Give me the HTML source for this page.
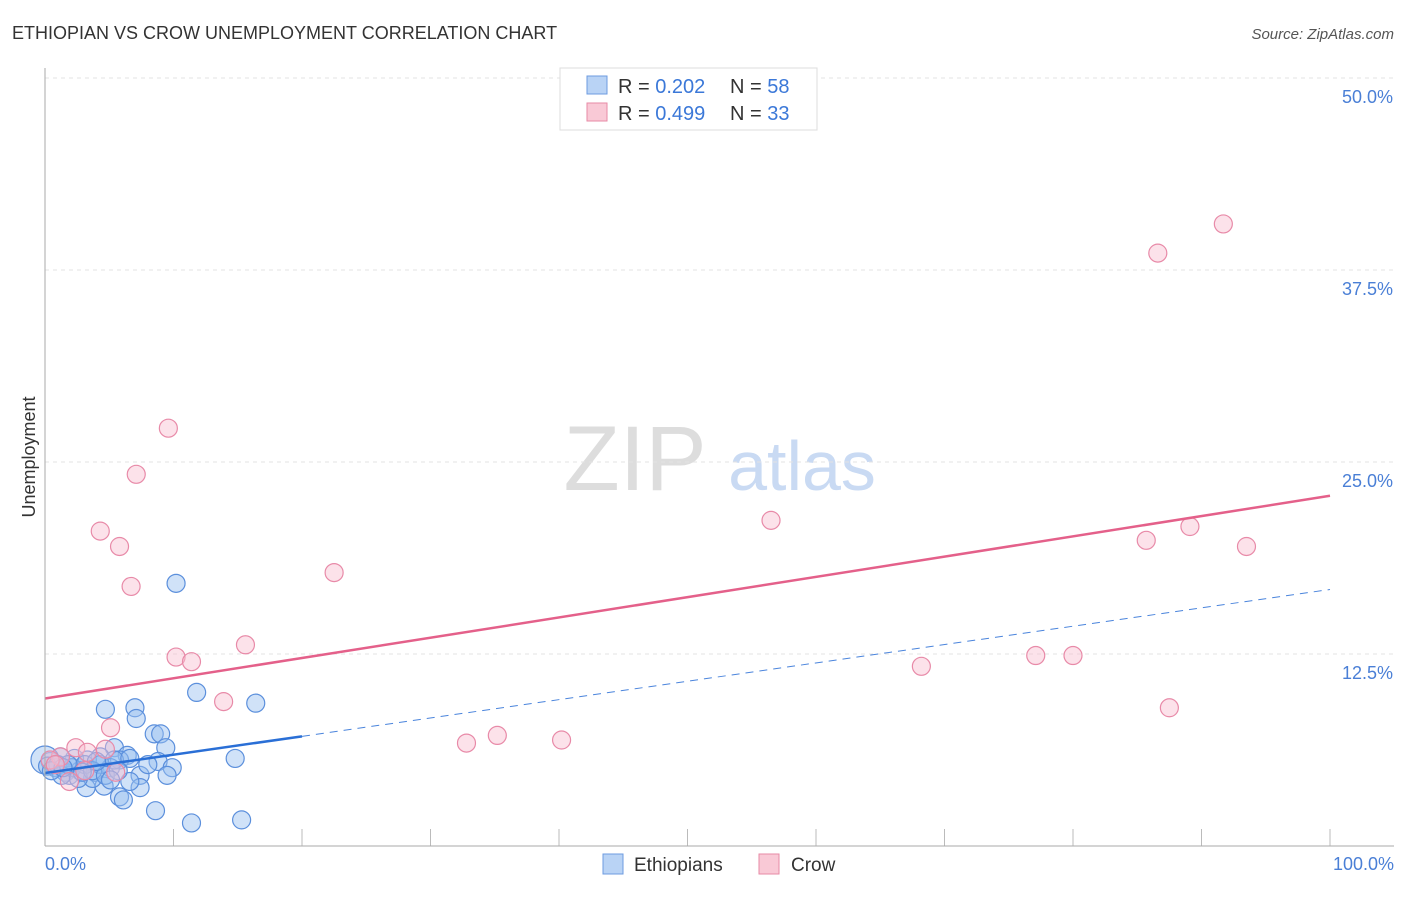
<!DOCTYPE html>
<html><head><meta charset="utf-8"><style>
body{margin:0;background:#fff;font-family:"Liberation Sans",sans-serif;}
svg text{font-family:"Liberation Sans",sans-serif;}
</style></head><body>
<svg width="1406" height="892" id="chart">
<text x="12" y="39" font-size="18" fill="#333">ETHIOPIAN VS CROW UNEMPLOYMENT CORRELATION CHART</text>
<text x="1394" y="39" font-size="15" fill="#555" font-style="italic" text-anchor="end">Source: ZipAtlas.com</text>
<text x="35" y="457" font-size="18" fill="#333" text-anchor="middle" transform="rotate(-90 35 457)">Unemployment</text>
<g><text x="635" y="490" font-size="92" fill="#ddd" font-family="Liberation Serif" text-anchor="middle">ZIP</text><text x="802" y="490" font-size="70" fill="#c9daf3" text-anchor="middle">atlas</text></g>
<g id="grid"></g><g id="marks"></g><g id="lines"></g>
<line x1="45" y1="68" x2="45" y2="846" stroke="#aaa"/>
<line x1="45" y1="846" x2="1394" y2="846" stroke="#aaa"/>
<text x="45" y="870" font-size="18" fill="#4a7fd6">0.0%</text>
<text x="1394" y="870" font-size="18" fill="#4a7fd6" text-anchor="end">100.0%</text>
<g>
<rect x="560" y="68" width="257" height="62" fill="#fff" stroke="#ddd"/>
<rect x="587" y="76" width="20" height="18" fill="#b9d3f5" stroke="#6d9be0"/>
<rect x="587" y="103" width="20" height="18" fill="#f9c9d6" stroke="#e78aa6"/>
<text x="618" y="93" font-size="20" fill="#333">R = <tspan fill="#3b78d8">0.202</tspan></text>
<text x="730" y="93" font-size="20" fill="#333">N = <tspan fill="#3b78d8">58</tspan></text>
<text x="618" y="120" font-size="20" fill="#333">R = <tspan fill="#3b78d8">0.499</tspan></text>
<text x="730" y="120" font-size="20" fill="#333">N = <tspan fill="#3b78d8">33</tspan></text>
</g>
<g>
<rect x="603" y="854" width="20" height="20" fill="#b9d3f5" stroke="#6d9be0"/>
<text x="634" y="871" font-size="19" fill="#333">Ethiopians</text>
<rect x="759" y="854" width="20" height="20" fill="#f9c9d6" stroke="#e78aa6"/>
<text x="791" y="871" font-size="19" fill="#333">Crow</text>
</g>
</svg>
<script>
const yTicks=[12.5,25,37.5,50];
const yTickLabels=["12.5%","25.0%","37.5%","50.0%"];
const xTicks=[0,10,20,30,40,50,60,70,80,90,100];
const blueX=[10.2,11.8,16.4,4.7,7.0,7.1,8.5,9.0,9.4,14.8,5.4,6.4,5.8,4.3,3.3,2.3,1.2,0.4,0.8,1.6,2.7,3.9,5.1,7.4,8.8,9.9,9.5,7.4,6.6,5.8,6.1,4.6,3.2,3.7,1.9,0,8.6,11.4,15.3,0.2,1.0,2.1,3.1,4.3,5.4,6.6,1.3,2.6,3.7,4.7,1.8,0.5,2.9,5.7,8.0,1.4,4.0,5.1];
const blueY=[17.1,10.0,9.3,8.9,9.0,8.3,7.3,7.3,6.4,5.7,6.4,5.9,5.6,5.8,5.6,5.7,5.8,5.5,5.1,4.8,4.9,4.8,5.1,4.6,5.5,5.1,4.6,3.8,4.2,3.2,3.0,3.9,3.8,4.4,4.6,5.6,2.3,1.5,1.7,5.2,5.3,5.1,5.3,5.3,5.6,5.7,4.6,4.4,4.9,4.6,5.3,4.9,4.8,4.9,5.3,5.1,5.5,4.3];
const pinkX=[91.7,86.6,9.6,7.1,4.3,5.8,6.7,22.5,56.5,89.1,85.7,93.5,10.2,11.4,15.6,13.9,68.2,77.1,80.0,87.5,5.1,32.8,35.2,40.2,2.4,3.3,4.7,1.2,0.4,1.9,3.1,5.5,0.8];
const pinkY=[40.5,38.6,27.2,24.2,20.5,19.5,16.9,17.8,21.2,20.8,19.9,19.5,12.3,12.0,13.1,9.4,11.7,12.4,12.4,9.0,7.7,6.7,7.2,6.9,6.4,6.1,6.3,5.8,5.6,4.2,4.9,4.8,5.3];
const blueTrend=[4.75,16.7];
const pinkTrend=[9.6,22.8];
const NS="http://www.w3.org/2000/svg";
const sx=v=>45+v*12.85, sy=v=>846-v*15.36;
function mk(tag,attrs,parent){const e=document.createElementNS(NS,tag);for(const k in attrs)e.setAttribute(k,attrs[k]);parent.appendChild(e);return e;}
const grid=document.getElementById('grid'),marks=document.getElementById('marks'),lines=document.getElementById('lines'),svg=document.getElementById('chart');
yTicks.forEach((t,i)=>{
 const l=mk('line',{x1:45,x2:1394,y1:sy(t),y2:sy(t),stroke:'#e3e3e3','stroke-dasharray':'4,4'},grid);
 
 
 const tx=mk('text',{x:1393,y:sy(t)+25,'font-size':18,fill:'#4a7fd6','text-anchor':'end'},svg);
 tx.textContent=yTickLabels[i];
 
 
});
xTicks.forEach(t=>{
 const l=mk('line',{x1:sx(t),x2:sx(t),y1:829,y2:846,stroke:'#bbb'},grid);
 
 
});
blueX.forEach((x,i)=>{
 const c=mk('circle',{cx:sx(x),cy:sy(blueY[i]),r:x===0?14:9,fill:'rgba(150,190,240,0.45)',stroke:'#5b8fdc','stroke-width':1.2},marks);
 
 
});
pinkX.forEach((x,i)=>{
 const c=mk('circle',{cx:sx(x),cy:sy(pinkY[i]),r:9,fill:'rgba(248,190,208,0.45)',stroke:'#e88aa8','stroke-width':1.2},marks);
 
 
});
const bAt=x=>blueTrend[0]+(blueTrend[1]-blueTrend[0])*x/100;
let l1=mk('line',{x1:sx(0),y1:sy(pinkTrend[0]),x2:sx(100),y2:sy(pinkTrend[1]),stroke:'#e4608a','stroke-width':2.5},lines);


let l2=mk('line',{x1:sx(0),y1:sy(bAt(0)),x2:sx(20),y2:sy(bAt(20)),stroke:'#2a6fd6','stroke-width':2.5},lines);


let l3=mk('line',{x1:sx(20),y1:sy(bAt(20)),x2:sx(100),y2:sy(bAt(100)),stroke:'#4a84dc','stroke-width':1,'stroke-dasharray':'8,6'},lines);


</script>
</body></html>
